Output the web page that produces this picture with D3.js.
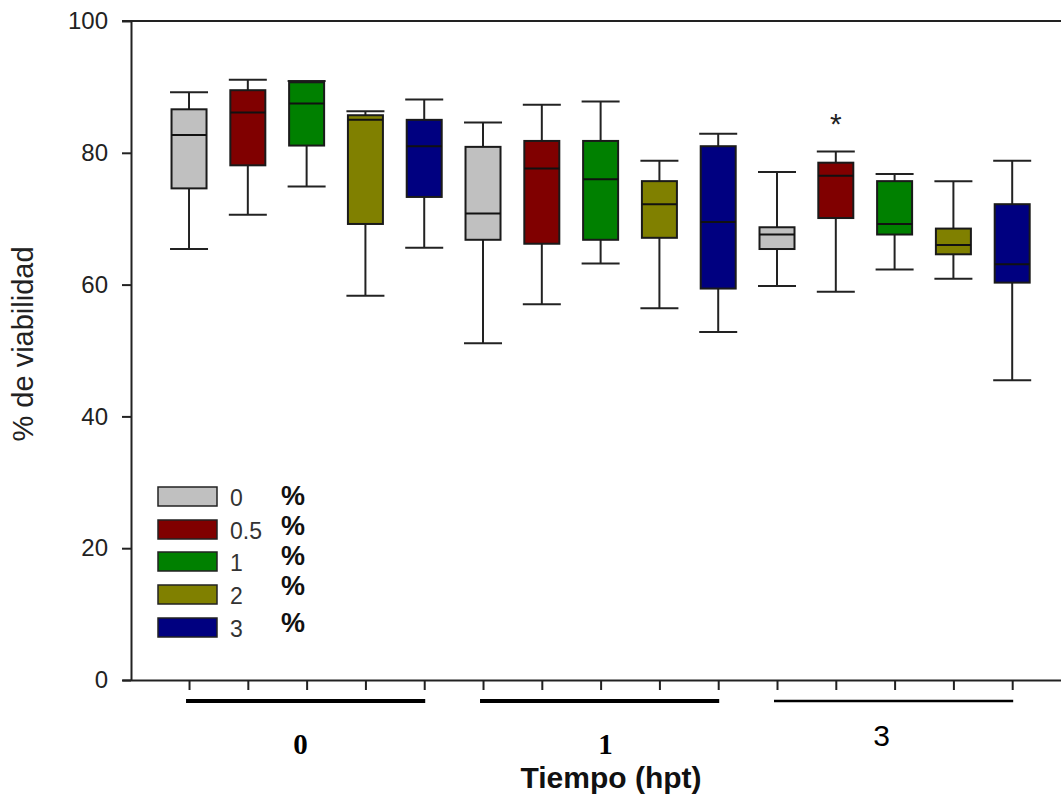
<!DOCTYPE html>
<html>
<head>
<meta charset="utf-8">
<script src="https://cdn.jsdelivr.net/npm/d3@7"></script>
<style>
  body { margin: 0; background: #fff; }
  svg { display: block; }
</style>
</head>
<body>
<div id="content"></div>
<script>
// data
var groups = ["0", "1", "3"];               // Tiempo (hpt)
var concentrations = ["0", "0.5", "1", "2", "3"];
var colors = ["#c0c0c0", "#800000", "#008000", "#808000", "#000080"];

// one entry per box, group by group (5 concentrations each)
var whiskerLow  = [65.4, 70.6, 74.9, 58.3, 65.6,  51.1, 57.0, 63.2, 56.4, 52.8,  59.8, 58.9, 62.3, 60.9, 45.5];
var q1          = [74.6, 78.1, 81.1, 69.2, 73.3,  66.8, 66.2, 66.8, 67.1, 59.4,  65.4, 70.1, 67.6, 64.6, 60.3];
var medians     = [82.7, 86.1, 87.5, 85.0, 81.0,  70.8, 77.6, 76.0, 72.2, 69.5,  67.6, 76.5, 69.2, 66.0, 63.1];
var q3          = [86.6, 89.5, 90.7, 85.7, 85.0,  80.9, 81.8, 81.8, 75.7, 81.0,  68.7, 78.5, 75.7, 68.5, 72.2];
var whiskerHigh = [89.2, 91.1, 90.9, 86.3, 88.1,  84.6, 87.3, 87.8, 78.8, 82.9,  77.1, 80.2, 76.8, 75.7, 78.8];

var yTicks = [0, 20, 40, 60, 80, 100];
var significant = [{box: 11, value: 85.4, label: "*"}];

var width = 1061, height = 800;

var svg = d3.select("#content").append("svg")
  .attr("width", width)
  .attr("height", height)
  .style("font-family", "'Liberation Sans', Arial, sans-serif");

// scales
var y = d3.scaleLinear().domain([0, 100]).range([680, 21]);
var x = d3.scaleLinear().domain([-1.14, 14.83]).range([122, 1061]);

var boxes = d3.range(whiskerLow.length).map(function(i) {
  return {
    i: i,
    lo: whiskerLow[i], q1: q1[i], med: medians[i], q3: q3[i], hi: whiskerHigh[i],
    color: colors[i % concentrations.length]
  };
});

// top frame line
svg.append("line")
  .attr("x1", 122).attr("x2", width)
  .attr("y1", y(100)).attr("y2", y(100))
  .attr("stroke", "#222").attr("stroke-width", 2);

// y axis
var yAxis = svg.append("g")
  .attr("transform", "translate(131,0)")
  .call(d3.axisLeft(y).tickValues(yTicks).tickSize(9).tickSizeOuter(0).tickPadding(14));
yAxis.select(".domain").attr("stroke", "#222").attr("stroke-width", 2);
yAxis.selectAll(".tick line").attr("stroke", "#222").attr("stroke-width", 2);
yAxis.selectAll(".tick text")
  .attr("fill", "#222")
  .style("font-size", "24px")
  .style("font-family", "'Liberation Sans', Arial, sans-serif");

// x axis
var xAxis = svg.append("g")
  .attr("transform", "translate(0," + y(0) + ")")
  .call(d3.axisBottom(x).tickValues(d3.range(boxes.length)).tickFormat("").tickSize(10).tickSizeOuter(0));
xAxis.select(".domain").attr("stroke", "#222").attr("stroke-width", 2);
xAxis.selectAll(".tick line").attr("stroke", "#222").attr("stroke-width", 2);

// axis titles
svg.append("text")
  .attr("transform", "translate(33," + 344 + ") rotate(-90)")
  .attr("text-anchor", "middle")
  .attr("fill", "#222")
  .style("font-size", "29px")
  .text("% de viabilidad");

svg.append("text")
  .attr("x", 611).attr("y", 788)
  .attr("text-anchor", "middle")
  .attr("fill", "#111")
  .style("font-size", "30px")
  .style("font-weight", "bold")
  .text("Tiempo (hpt)");

// group bars under the ticks
var n = concentrations.length;
var barWidths = [4, 4, 2.5];
var labelDx = [-6, 5, -13];
groups.forEach(function(g, gi) {
  var first = gi * n, last = gi * n + n - 1;
  svg.append("line")
    .attr("x1", x(first) - 3).attr("x2", x(last) + 1)
    .attr("y1", 701).attr("y2", 701)
    .attr("stroke", "#000").attr("stroke-width", barWidths[gi]);
  var serif = gi < 2;
  svg.append("text")
    .attr("x", x((first + last) / 2) + labelDx[gi])
    .attr("y", serif ? 754 : 746)
    .attr("text-anchor", "middle")
    .attr("fill", "#000")
    .style("font-family", serif ? "'Liberation Serif', 'Times New Roman', serif" : "'Liberation Sans', Arial, sans-serif")
    .style("font-weight", serif ? "bold" : "normal")
    .style("font-size", serif ? "29px" : "30px")
    .text(g);
});

// boxes
var boxW = 35, capW = 38;
var bx = svg.append("g").selectAll("g").data(boxes).enter().append("g");

bx.append("line") // whisker
  .attr("x1", function(d) { return x(d.i); })
  .attr("x2", function(d) { return x(d.i); })
  .attr("y1", function(d) { return y(d.lo); })
  .attr("y2", function(d) { return y(d.hi); })
  .attr("stroke", "#222").attr("stroke-width", 2);

bx.selectAll(".cap").data(function(d) { return [d.lo, d.hi].map(function(v) { return {i: d.i, v: v}; }); })
  .enter().append("line")
  .attr("class", "cap")
  .attr("x1", function(d) { return x(d.i) - capW / 2; })
  .attr("x2", function(d) { return x(d.i) + capW / 2; })
  .attr("y1", function(d) { return y(d.v); })
  .attr("y2", function(d) { return y(d.v); })
  .attr("stroke", "#222").attr("stroke-width", 2);

bx.append("rect")
  .attr("x", function(d) { return x(d.i) - boxW / 2; })
  .attr("y", function(d) { return y(d.q3); })
  .attr("width", boxW)
  .attr("height", function(d) { return y(d.q1) - y(d.q3); })
  .attr("fill", function(d) { return d.color; })
  .attr("stroke", "#1a1a1a").attr("stroke-width", 2);

bx.append("line") // median
  .attr("x1", function(d) { return x(d.i) - boxW / 2; })
  .attr("x2", function(d) { return x(d.i) + boxW / 2; })
  .attr("y1", function(d) { return y(d.med); })
  .attr("y2", function(d) { return y(d.med); })
  .attr("stroke", "#111").attr("stroke-width", 2);

// significance mark
svg.selectAll(".sig").data(significant).enter().append("text")
  .attr("class", "sig")
  .attr("x", function(d) { return x(d.box); })
  .attr("y", function(d) { return y(d.value) + 17; })
  .attr("text-anchor", "middle")
  .attr("fill", "#222")
  .style("font-size", "30px")
  .text(function(d) { return d.label; });

// legend
var legendTops = [487, 520, 552, 585, 618];
var pctBaselines = [505, 535, 565, 595, 632];
var legend = svg.append("g").selectAll("g").data(concentrations).enter().append("g");
legend.append("rect")
  .attr("x", 158)
  .attr("y", function(d, i) { return legendTops[i]; })
  .attr("width", 59).attr("height", 19)
  .attr("fill", function(d, i) { return colors[i]; })
  .attr("stroke", "#222").attr("stroke-width", 1.5);
legend.append("text")
  .attr("x", 230)
  .attr("y", function(d, i) { return legendTops[i] + 19; })
  .attr("fill", "#333")
  .style("font-size", "23px")
  .text(function(d) { return d; });
legend.append("text")
  .attr("x", 281)
  .attr("y", function(d, i) { return pctBaselines[i]; })
  .attr("fill", "#111")
  .style("font-size", "27px")
  .style("font-weight", "bold")
  .text("%");
</script>
</body>
</html>
